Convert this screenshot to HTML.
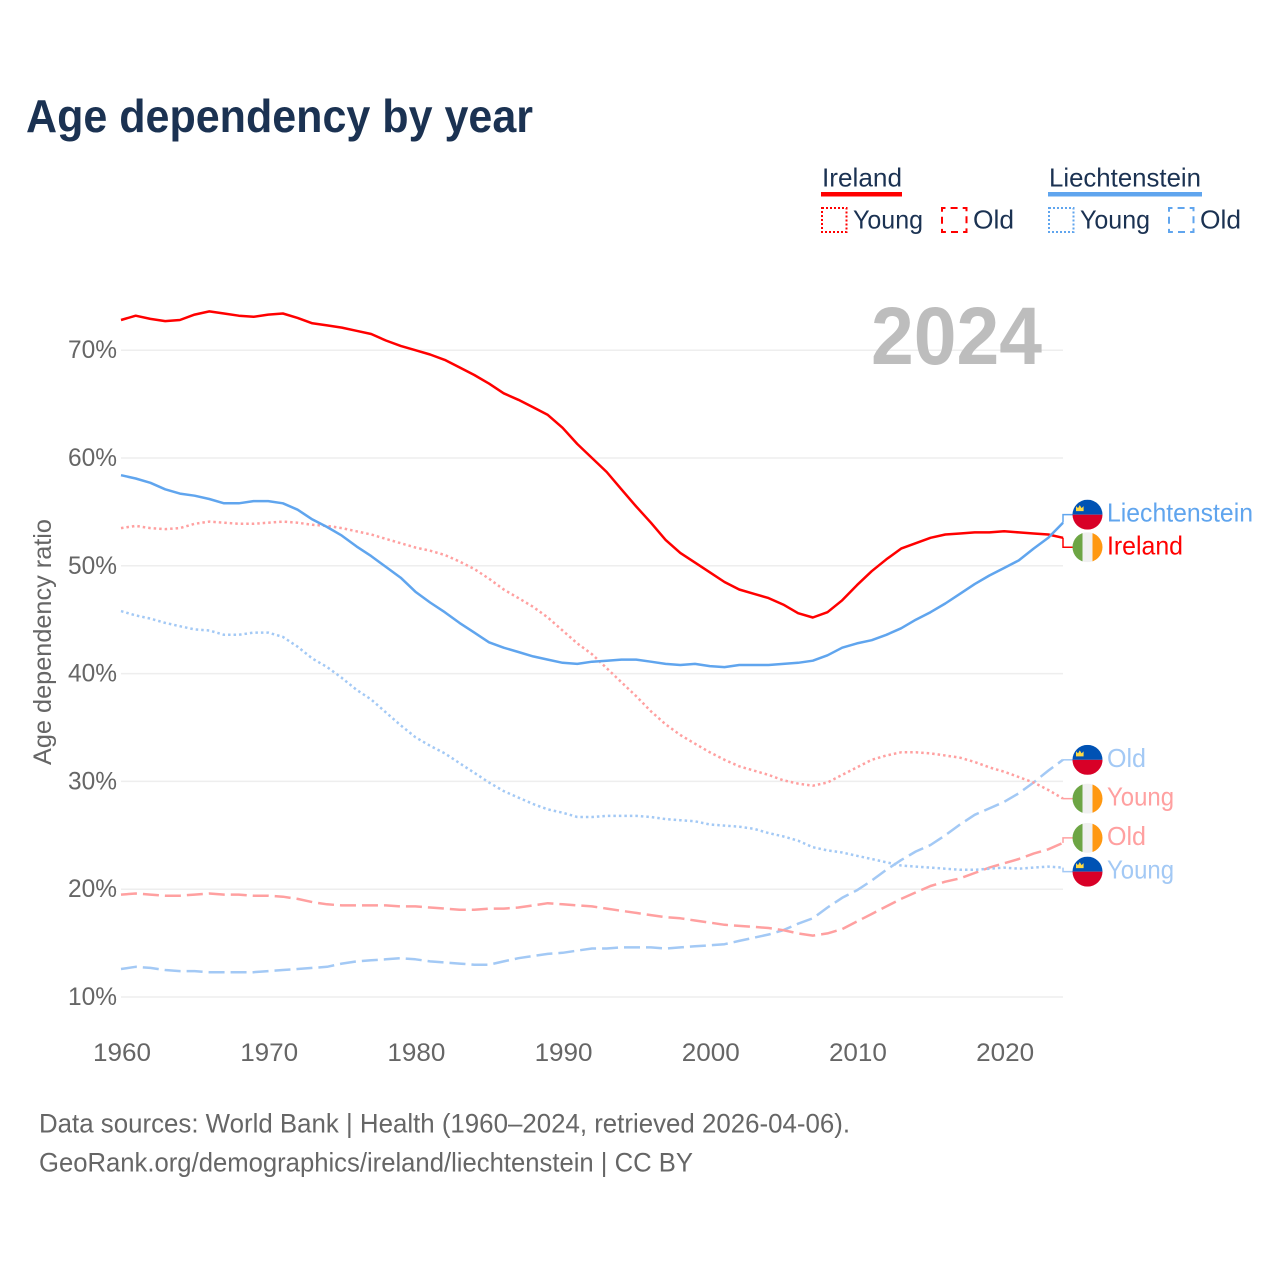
<!DOCTYPE html>
<html lang="en">
<head>
<meta charset="utf-8">
<title>Age dependency by year</title>
<style>
html,body{margin:0;padding:0;background:#fff;}
svg{display:block;font-family:"Liberation Sans",sans-serif;}
</style>
</head>
<body>
<svg id="chart" xmlns="http://www.w3.org/2000/svg" width="1280" height="1280" viewBox="0 0 1280 1280">
  <defs><clipPath id="flag-clip"><circle cx="0" cy="0" r="15"></circle></clipPath></defs>
  <rect x="0" y="0" width="1280" height="1280" fill="#ffffff"></rect>
  <text x="26" y="132" font-size="46" font-weight="700" fill="#1b3252" textLength="507" lengthAdjust="spacingAndGlyphs">Age dependency by year</text>

  <g>
    <g>
      <text x="822" y="186.5" font-size="26" fill="#1b3252" textLength="80" lengthAdjust="spacingAndGlyphs">Ireland</text>
      <rect x="821" y="192" width="81" height="4.5" fill="#ff0000"></rect>
      <rect x="822" y="208" width="24.5" height="24" fill="none" stroke="#ff0000" stroke-width="2" stroke-dasharray="2 2"></rect>
      <text x="853" y="228.5" font-size="26" fill="#1b3252" textLength="70" lengthAdjust="spacingAndGlyphs">Young</text>
      <rect x="942" y="208" width="24.5" height="24" fill="none" stroke="#ff0000" stroke-width="2" stroke-dasharray="7 5.1" stroke-dashoffset="3.5"></rect>
      <text x="973" y="228.5" font-size="26" fill="#1b3252" textLength="41" lengthAdjust="spacingAndGlyphs">Old</text>
    </g>
    <g>
      <text x="1049" y="186.5" font-size="26" fill="#1b3252" textLength="152" lengthAdjust="spacingAndGlyphs">Liechtenstein</text>
      <rect x="1048" y="192" width="154" height="4.5" fill="#60a5ee"></rect>
      <rect x="1049" y="208" width="24.5" height="24" fill="none" stroke="#60a5ee" stroke-width="2" stroke-dasharray="2 2"></rect>
      <text x="1080" y="228.5" font-size="26" fill="#1b3252" textLength="70" lengthAdjust="spacingAndGlyphs">Young</text>
      <rect x="1169" y="208" width="24.5" height="24" fill="none" stroke="#60a5ee" stroke-width="2" stroke-dasharray="7 5.1" stroke-dashoffset="3.5"></rect>
      <text x="1200" y="228.5" font-size="26" fill="#1b3252" textLength="41" lengthAdjust="spacingAndGlyphs">Old</text>
    </g>
  </g>

  <g id="grid"></g>
  <text x="871" y="364" font-size="82" font-weight="700" fill="#bdbdbd" textLength="171" lengthAdjust="spacingAndGlyphs">2024</text>
  <g id="y-axis"></g>
  <g id="x-axis"></g>
  <text transform="translate(51 642) rotate(-90)" text-anchor="middle" font-size="25" fill="#666666" textLength="246" lengthAdjust="spacingAndGlyphs">Age dependency ratio</text>
  <g id="series"></g>
  <g id="labels"></g>

  <text x="39" y="1132.5" font-size="26.5" fill="#666666" textLength="811" lengthAdjust="spacingAndGlyphs">Data sources: World Bank | Health (1960–2024, retrieved 2026-04-06).</text>
  <text x="39" y="1171.5" font-size="26.5" fill="#666666" textLength="654" lengthAdjust="spacingAndGlyphs">GeoRank.org/demographics/ireland/liechtenstein | CC BY</text>
</svg>

<script>
const startYear = 1960;
const endYear = 2024;
const xTicks = [1960, 1970, 1980, 1990, 2000, 2010, 2020];
const yTicks = [10, 20, 30, 40, 50, 60, 70];

const irelandTotal = [72.8,73.2,72.9,72.7,72.8,73.3,73.6,73.4,73.2,73.1,73.3,73.4,73.0,72.5,72.3,72.1,71.8,71.5,70.9,70.4,70.0,69.6,69.1,68.4,67.7,66.9,66.0,65.4,64.7,64.0,62.8,61.3,60.0,58.7,57.1,55.5,54.0,52.4,51.2,50.3,49.4,48.5,47.8,47.4,47.0,46.4,45.6,45.2,45.7,46.8,48.2,49.5,50.6,51.6,52.1,52.6,52.9,53.0,53.1,53.1,53.2,53.1,53.0,52.9,52.6];
const liechtensteinTotal = [58.4,58.1,57.7,57.1,56.7,56.5,56.2,55.8,55.8,56.0,56.0,55.8,55.2,54.3,53.6,52.8,51.8,50.9,49.9,48.9,47.6,46.6,45.7,44.7,43.8,42.9,42.4,42.0,41.6,41.3,41.0,40.9,41.1,41.2,41.3,41.3,41.1,40.9,40.8,40.9,40.7,40.6,40.8,40.8,40.8,40.9,41.0,41.2,41.7,42.4,42.8,43.1,43.6,44.2,45.0,45.7,46.5,47.4,48.3,49.1,49.8,50.5,51.6,52.6,54.0];
const irelandYoung = [53.5,53.7,53.5,53.4,53.5,53.9,54.1,54.0,53.9,53.9,54.0,54.1,54.0,53.8,53.7,53.5,53.2,52.9,52.5,52.1,51.7,51.4,51.0,50.4,49.7,48.8,47.8,47.0,46.2,45.2,44.0,42.8,41.8,40.5,39.2,37.9,36.5,35.3,34.3,33.5,32.7,32.0,31.4,31.0,30.6,30.1,29.8,29.6,29.9,30.6,31.3,32.0,32.4,32.7,32.7,32.6,32.4,32.2,31.8,31.3,30.9,30.4,29.9,29.2,28.4];
const liechtensteinYoung = [45.8,45.4,45.1,44.7,44.4,44.1,44.0,43.6,43.6,43.8,43.8,43.4,42.5,41.4,40.6,39.6,38.5,37.6,36.4,35.2,34.1,33.3,32.6,31.7,30.8,29.9,29.1,28.5,27.9,27.4,27.1,26.7,26.7,26.8,26.8,26.8,26.7,26.5,26.4,26.3,26.0,25.9,25.8,25.6,25.2,24.9,24.5,23.9,23.6,23.4,23.1,22.8,22.5,22.2,22.1,22.0,21.9,21.8,21.8,21.9,22.0,21.9,22.0,22.1,22.0];
const irelandOld = [19.5,19.6,19.5,19.4,19.4,19.5,19.6,19.5,19.5,19.4,19.4,19.3,19.1,18.8,18.6,18.5,18.5,18.5,18.5,18.4,18.4,18.3,18.2,18.1,18.1,18.2,18.2,18.3,18.5,18.7,18.6,18.5,18.4,18.2,18.0,17.8,17.6,17.4,17.3,17.1,16.9,16.7,16.6,16.5,16.4,16.2,15.9,15.7,15.9,16.3,17.0,17.7,18.4,19.1,19.7,20.3,20.7,21.0,21.5,22.0,22.4,22.8,23.3,23.7,24.3];
const liechtensteinOld = [12.6,12.8,12.7,12.5,12.4,12.4,12.3,12.3,12.3,12.3,12.4,12.5,12.6,12.7,12.8,13.1,13.3,13.4,13.5,13.6,13.5,13.3,13.2,13.1,13.0,13.0,13.3,13.6,13.8,14.0,14.1,14.3,14.5,14.5,14.6,14.6,14.6,14.5,14.6,14.7,14.8,14.9,15.2,15.5,15.8,16.2,16.8,17.3,18.3,19.2,19.9,20.8,21.8,22.7,23.5,24.1,25.0,26.0,26.9,27.5,28.1,28.9,29.9,31.0,32.0];

const NS = 'http://www.w3.org/2000/svg';
const xLeft = 121, xRight = 1063;
const yAt10 = 997, pxPerPoint = 10.78;
function xScale(year) { return xLeft + (year - startYear) * (xRight - xLeft) / (endYear - startYear); }
function yScale(value) { return yAt10 - (value - 10) * pxPerPoint; }
function make(tag, parent, attrs) {
  const el = document.createElementNS(NS, tag);
  for (const key in attrs) el.setAttribute(key, attrs[key]);
  parent.appendChild(el);
  return el;
}

const gridGroup = document.getElementById('grid');
const yAxisGroup = document.getElementById('y-axis');
const xAxisGroup = document.getElementById('x-axis');
yTicks.forEach(function (tick) {
  const line = make('line', gridGroup, { x1: xLeft, x2: xRight, y1: yScale(tick), y2: yScale(tick), stroke: '#eeeeee', 'stroke-width': 1.5 });
  
  
  const label = make('text', yAxisGroup, { x: 117, y: yScale(tick) + 8, 'text-anchor': 'end', 'font-size': 25, fill: '#666666', textLength: 49, lengthAdjust: 'spacingAndGlyphs' });
  
  
  label.textContent = tick + '%';
});
xTicks.forEach(function (tick) {
  const label = make('text', xAxisGroup, { x: xScale(tick) + 1, y: 1061, 'text-anchor': 'middle', 'font-size': 25, fill: '#666666', textLength: 58, lengthAdjust: 'spacingAndGlyphs' });
  
  
  label.textContent = tick;
});

const seriesGroup = document.getElementById('series');
const labelGroup = document.getElementById('labels');
const BLUE = '#60a5ee', RED = '#ff0000', LIGHT_BLUE = '#a3c9f5', PINK = '#ffa0a0';
const DOT = '2.5 3', DASH = '16 6';

function drawFlag(code, cy, parent) {
  const g = make('g', parent, { transform: 'translate(1087.5 ' + cy + ')' });
  
  
  const inner = make('g', g, { 'clip-path': 'url(#flag-clip)' });
  if (code === 'li') {
    make('rect', inner, { x: -15, y: -15, width: 30, height: 15, fill: '#0052b4' });
    make('rect', inner, { x: -15, y: 0, width: 30, height: 15, fill: '#d80027' });
    make('path', inner, { d: 'M-11.5 -3.5 L-11.5 -8.5 L-9.5 -6.5 L-7.7 -9.5 L-5.9 -6.5 L-3.9 -8.5 L-3.9 -3.5 Z', fill: '#ffda44' });
  } else {
    make('rect', inner, { x: -15, y: -15, width: 10, height: 30, fill: '#6da544' });
    make('rect', inner, { x: -5, y: -15, width: 10, height: 30, fill: '#f0f0f0' });
    make('rect', inner, { x: 5, y: -15, width: 10, height: 30, fill: '#ff9811' });
  }
}

function drawSeries(values, name, flag, labelText, color, dash, labelShift, labelWidth) {
  const points = values.map(function (value, i) { return xScale(startYear + i).toFixed(1) + ',' + yScale(value).toFixed(1); });
  const line = make('polyline', seriesGroup, { points: points.join(' '), fill: 'none', stroke: color, 'stroke-width': 2.5, 'stroke-linejoin': 'round' });
  if (dash) line.setAttribute('stroke-dasharray', dash);
  
  

  const endValue = values[values.length - 1];
  const endX = xScale(endYear), endY = yScale(endValue), labelY = endY + labelShift;
  const leader = make('polyline', labelGroup, { points: endX + ',' + endY + ' ' + endX + ',' + labelY + ' ' + (endX + 10) + ',' + labelY, fill: 'none', stroke: color, 'stroke-width': 1.5 });
  
  

  drawFlag(flag, labelY, labelGroup);

  const label = make('text', labelGroup, { x: 1107, y: labelY + 7, 'font-size': 26, fill: color, textLength: labelWidth, lengthAdjust: 'spacingAndGlyphs' });
  
  
  label.textContent = labelText;
}

drawSeries(liechtensteinOld, 'liechtenstein-old', 'li', 'Old', LIGHT_BLUE, DASH, 0, 39);
drawSeries(irelandOld, 'ireland-old', 'ie', 'Old', PINK, DASH, -5, 39);
drawSeries(liechtensteinYoung, 'liechtenstein-young', 'li', 'Young', LIGHT_BLUE, DOT, 4, 67);
drawSeries(irelandYoung, 'ireland-young', 'ie', 'Young', PINK, DOT, 0, 67);
drawSeries(irelandTotal, 'ireland-total', 'ie', 'Ireland', RED, null, 9.5, 76);
drawSeries(liechtensteinTotal, 'liechtenstein-total', 'li', 'Liechtenstein', BLUE, null, -8, 146);
</script>
</body>
</html>
